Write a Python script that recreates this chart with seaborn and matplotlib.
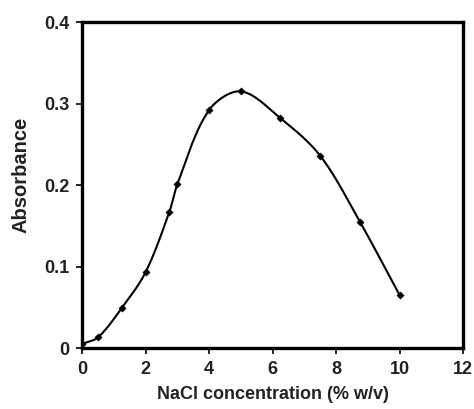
import numpy as np
import matplotlib
matplotlib.use("Agg")
import matplotlib.pyplot as plt
import seaborn as sns

sns.set_theme(style="white")
plt.rcParams['font.family'] = ['Liberation Sans', 'DejaVu Sans']

nacl = [0, 0.5, 1.25, 2, 2.75, 3, 4, 5, 6.25, 7.5, 8.75, 10]
absorbance = [0.005, 0.013, 0.049, 0.093, 0.167, 0.201, 0.292, 0.315, 0.282, 0.236, 0.155, 0.065]
xticks = [0, 2, 4, 6, 8, 10, 12]
yticks = [0, 0.1, 0.2, 0.3, 0.4]
ytick_labels = ['0', '0.1', '0.2', '0.3', '0.4']


def smooth_curve(x, y, n=30):
    # chord-length catmull-rom, gives a spreadsheet-like "smoothed line"
    x = np.asarray(x, float)
    y = np.asarray(y, float)
    nx, ny = x / 12, y / 0.4
    d = np.hypot(np.diff(nx), np.diff(ny))
    tk = np.concatenate([[0], np.cumsum(d)])
    def tangents(p):
        m = np.zeros_like(p)
        m[1:-1] = (p[2:] - p[:-2]) / (tk[2:] - tk[:-2])
        m[0] = (p[1] - p[0]) / (tk[1] - tk[0])
        m[-1] = (p[-1] - p[-2]) / (tk[-1] - tk[-2])
        return m
    mx, my = tangents(x), tangents(y)
    t = np.linspace(0, 1, n)
    h00 = 2 * t**3 - 3 * t**2 + 1
    h10 = t**3 - 2 * t**2 + t
    h01 = -2 * t**3 + 3 * t**2
    h11 = t**3 - t**2
    xs, ys = [], []
    for i in range(len(x) - 1):
        dt = tk[i + 1] - tk[i]
        xs.append(h00 * x[i] + h10 * dt * mx[i] + h01 * x[i + 1] + h11 * dt * mx[i + 1])
        ys.append(h00 * y[i] + h10 * dt * my[i] + h01 * y[i + 1] + h11 * dt * my[i + 1])
    return np.concatenate(xs), np.concatenate(ys)


fig, ax = plt.subplots(figsize=(4.74, 4.09), dpi=100)
fig.subplots_adjust(left=0.173, right=0.977, bottom=0.149, top=0.946)

sx, sy = smooth_curve(nacl, absorbance)
sns.lineplot(x=sx, y=sy, ax=ax, color='black', linewidth=1.5, sort=False, estimator=None)
sns.scatterplot(x=nacl, y=absorbance, ax=ax, color='black', marker='D', s=14, edgecolor='black', zorder=3)

ax.set_xlim(0, 12)
ax.set_ylim(0, 0.4)
ax.set_xticks(xticks)
ax.set_yticks(yticks)
ax.set_yticklabels(ytick_labels)
ax.tick_params(axis='both', direction='out', length=4, width=1.2, color='black',
               labelsize=13, pad=5, bottom=True, left=True)
for lab in ax.get_xticklabels() + ax.get_yticklabels():
    lab.set_fontweight('bold')
    lab.set_color('#222222')

for side in ['left', 'bottom', 'top', 'right']:
    ax.spines[side].set_color('black')
    ax.spines[side].set_linewidth(2.4)

ax.set_xlabel('NaCl concentration (% w/v)', fontsize=13, fontweight='bold', color='#222222', labelpad=6)
ax.set_ylabel('Absorbance', fontsize=14.5, fontweight='bold', color='#222222')
ax.yaxis.set_label_coords(-0.135, 0.53)
ax.grid(False)

fig.savefig('out.png', dpi=100, facecolor='white')
